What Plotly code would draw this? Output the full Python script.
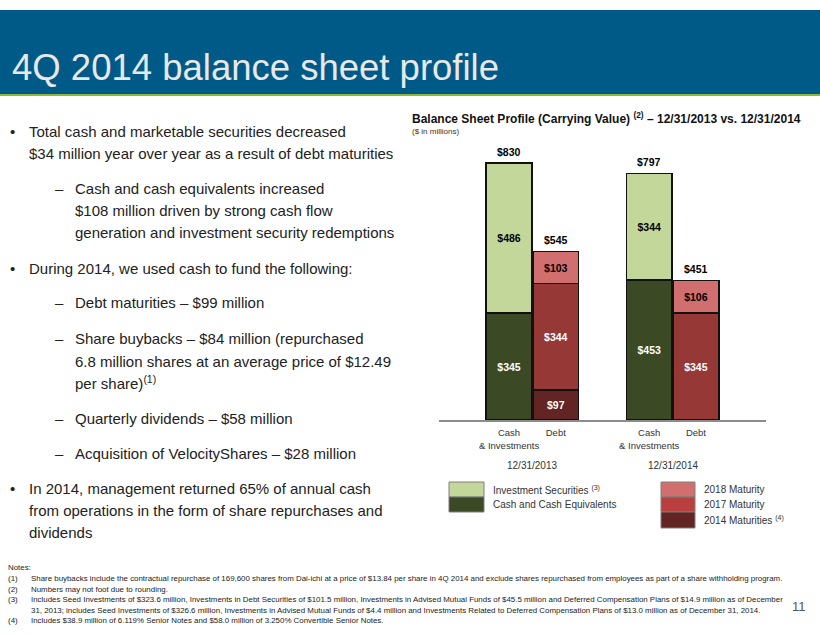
import plotly.graph_objects as go

W, H = 820, 635
FONT = "Arial, Liberation Sans, sans-serif"

# chart data ($ in millions)
positions = [0, 1, 3, 4]
tick_labels = ["Cash<br>& Investments", "Debt", "Cash<br>& Investments", "Debt"]
cash_pos = [0, 3]
debt_pos = [1, 4]
cash_equivalents = [345, 453]
investment_securities = [486, 344]
maturities_2014 = [97, None]
maturity_2017 = [344, 345]
maturity_2018 = [103, 106]
totals = [830, 545, 797, 451]
dates = ["12/31/2013", "12/31/2014"]
date_pos = [0.5, 3.5]

bullets = [
    ("•", "Total cash and marketable securities decreased", 131),
    ("", "$34 million year over year as a result of debt maturities", 153),
    ("–", "Cash and cash equivalents increased", 188),
    ("", "$108 million driven by strong cash flow", 210),
    ("", "generation and investment security redemptions", 232),
    ("•", "During 2014, we used cash to fund the following:", 268),
    ("–", "Debt maturities – $99 million", 303),
    ("–", "Share buybacks – $84 million (repurchased", 338),
    ("", "6.8 million shares at an average price of $12.49", 361),
    ("", "per share)<sup>(1)</sup>", 383),
    ("–", "Quarterly dividends – $58 million", 418),
    ("–", "Acquisition of VelocityShares – $28 million", 453),
    ("•", "In 2014, management returned 65% of annual cash", 488),
    ("", "from operations in the form of share repurchases and", 511),
    ("", "dividends", 532),
]
sub_lines = {2, 3, 4, 6, 7, 8, 9, 10, 11}

notes = [
    ("", "Notes:", 567),
    ("(1)", "Share buybacks include the contractual repurchase of 169,600 shares from Dai-ichi at a price of $13.84 per share in 4Q 2014 and exclude shares repurchased from employees as part of a share withholding program.", 578),
    ("(2)", "Numbers may not foot due to rounding.", 589),
    ("(3)", "Includes Seed Investments of $323.6 million, Investments in Debt Securities of $101.5 million, Investments in Advised Mutual Funds of $45.5 million and Deferred Compensation Plans of $14.9 million as of December", 599),
    ("", "31, 2013; includes Seed Investments of $326.6 million, Investments in Advised Mutual Funds of $4.4 million and Investments Related to Deferred Compensation Plans of $13.0 million as of December 31, 2014.", 610),
    ("(4)", "Includes $38.9 million of 6.119% Senior Notes and $58.0 million of 3.250% Convertible Senior Notes.", 620),
]

C_LIGHT_GREEN = "#C4D79B"
C_DARK_GREEN = "#3B4A24"
C_2018 = "#D06F6D"
C_2017 = "#963836"
C_2017_LEG = "#B9403F"
C_2014 = "#632523"


def px(x):
    return x / W


def py(y):
    return 1 - y / H


fig = go.Figure()

line = dict(color="#111111", width=1.5)


def add_stack(x, y, color, name, text_color):
    fig.add_trace(go.Bar(
        x=x, y=y, name=name, width=0.98,
        marker=dict(color=color, line=line),
        texttemplate="<b>$%{y}</b>", textposition="inside",
        insidetextanchor="middle", textangle=0,
        textfont=dict(family=FONT, size=10.5, color=text_color),
        showlegend=False, hoverinfo="skip",
    ))


add_stack(cash_pos, cash_equivalents, C_DARK_GREEN, "Cash and Cash Equivalents", "white")
add_stack(cash_pos, investment_securities, C_LIGHT_GREEN, "Investment Securities", "black")
add_stack(debt_pos, maturities_2014, C_2014, "2014 Maturities", "white")
add_stack(debt_pos, maturity_2017, C_2017, "2017 Maturity", "white")
add_stack(debt_pos, maturity_2018, C_2018, "2018 Maturity", "black")

ann = []
for x, t in zip(positions, totals):
    ann.append(dict(x=x, y=t, xref="x", yref="y", text=f"<b>${t}</b>",
                    showarrow=False, yanchor="bottom", yshift=3,
                    font=dict(family=FONT, size=10.5, color="black")))

for x, d in zip(date_pos, dates):
    ann.append(dict(x=x, y=py(465), xref="x", yref="paper", text=d,
                    showarrow=False, yanchor="middle",
                    font=dict(family=FONT, size=10, color="#333333")))

fig.update_layout(
    width=W, height=H, autosize=False,
    margin=dict(l=0, r=0, t=0, b=0),
    paper_bgcolor="white", plot_bgcolor="rgba(0,0,0,0)",
    barmode="stack",
    xaxis=dict(domain=[px(439), px(766)], range=[-1.5, 5.5],
               tickvals=positions, ticktext=tick_labels,
               tickfont=dict(family=FONT, size=9.5, color="#333333"),
               showline=True, linecolor="#8C8C8C", linewidth=1.5,
               showgrid=False, zeroline=False, ticks="", ticklabelstandoff=3),
    yaxis=dict(domain=[py(420), py(141.4)], range=[0, 900],
               visible=False, showgrid=False, zeroline=False),
    font=dict(family=FONT),
)

# slide banner
shapes = [
    dict(type="rect", xref="paper", yref="paper", x0=0, x1=1, y0=py(94), y1=py(10),
         fillcolor="#005A87", line=dict(width=0), layer="below"),
    dict(type="rect", xref="paper", yref="paper", x0=0, x1=1, y0=py(96), y1=py(94),
         fillcolor="#8DB83C", line=dict(width=0), layer="below"),
]
ann.append(dict(x=px(10), y=py(68), xref="paper", yref="paper", xanchor="left",
                yanchor="middle", showarrow=False, text="4Q 2014 balance sheet profile",
                font=dict(family=FONT, size=36.5, color="#E8E8E8")))

# chart title
ann.append(dict(x=px(410), y=py(118), xref="paper", yref="paper", xanchor="left",
                yanchor="middle", showarrow=False,
                text="<b>Balance Sheet Profile (Carrying Value) <sup>(2)</sup> – 12/31/2013 vs. 12/31/2014</b>",
                font=dict(family=FONT, size=12, color="#111111")))
ann.append(dict(x=px(410), y=py(132), xref="paper", yref="paper", xanchor="left",
                yanchor="middle", showarrow=False, text="($ in millions)",
                font=dict(family=FONT, size=8, color="#333333")))

# legend boxes
legend_left = [("Investment Securities <sup>(3)</sup>", C_LIGHT_GREEN, 482, 497),
               ("Cash and Cash Equivalents", C_DARK_GREEN, 497, 512)]
legend_right = [("2018 Maturity", C_2018, 482, 497),
                ("2017 Maturity", C_2017_LEG, 497, 512),
                ("2014 Maturities <sup>(4)</sup>", C_2014, 512, 528)]
for items, bx0, bx1, tx in [(legend_left, 449, 484, 491), (legend_right, 661, 695, 702)]:
    for label, color, y0, y1 in items:
        shapes.append(dict(type="rect", xref="paper", yref="paper",
                           x0=px(bx0), x1=px(bx1), y0=py(y1), y1=py(y0),
                           fillcolor=color, line=dict(color="#7F7F7F", width=1)))
        ann.append(dict(x=px(tx), y=py((y0 + y1) / 2), xref="paper", yref="paper",
                        xanchor="left", yanchor="middle", showarrow=False, text=label,
                        font=dict(family=FONT, size=10, color="#333333")))

# bullet text
for i, (mark, txt, y) in enumerate(bullets):
    sub = i in sub_lines
    if mark:
        ann.append(dict(x=px(53 if sub else 8), y=py(y), xref="paper", yref="paper",
                        xanchor="left", yanchor="middle", showarrow=False, text=mark,
                        font=dict(family=FONT, size=15, color="#222222")))
    ann.append(dict(x=px(73 if sub else 27), y=py(y), xref="paper", yref="paper",
                    xanchor="left", yanchor="middle", showarrow=False, text=txt,
                    font=dict(family=FONT, size=15, color="#222222")))

# notes
for num, txt, y in notes:
    if num:
        ann.append(dict(x=px(6), y=py(y), xref="paper", yref="paper", xanchor="left",
                        yanchor="middle", showarrow=False, text=num,
                        font=dict(family=FONT, size=7.9, color="#222222")))
    ann.append(dict(x=px(6 if txt == "Notes:" else 29), y=py(y), xref="paper", yref="paper",
                    xanchor="left", yanchor="middle", showarrow=False, text=txt,
                    font=dict(family=FONT, size=7.9, color="#222222")))

ann.append(dict(x=px(808), y=py(606), xref="paper", yref="paper", xanchor="right",
                yanchor="middle", showarrow=False, text="11",
                font=dict(family=FONT, size=13, color="#555555")))

fig.update_layout(shapes=shapes, annotations=ann)
# drop the default 8px page margin so the figure sits at the window origin
fig.write_html("out.html", config={"displayModeBar": False},
               post_script="document.body.style.margin='0';")
